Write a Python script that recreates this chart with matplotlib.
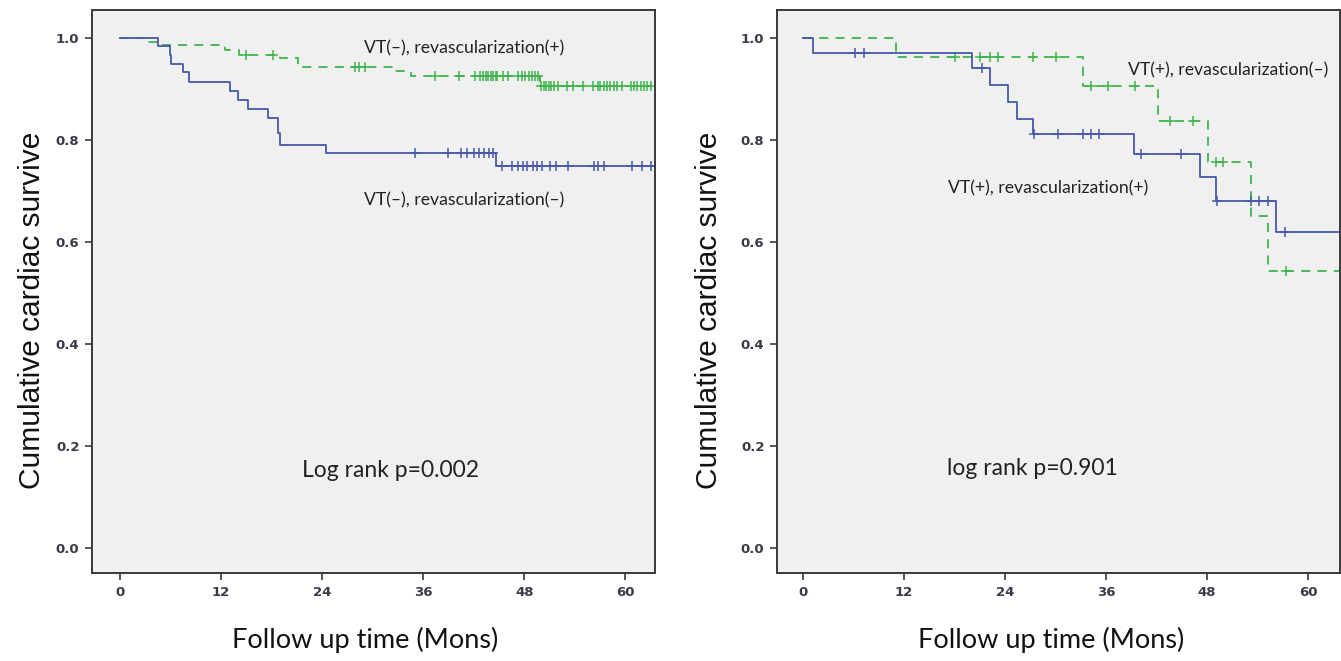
import numpy as np
import matplotlib
matplotlib.use("Agg")
import matplotlib.pyplot as plt

# left panel: VT(-) patients
left_blue_t = [4.5, 5.9, 6.1, 7.5, 8.2, 13.1, 14.0, 15.2, 17.6, 18.8, 19.0, 24.5, 44.6]
left_blue_s = [0.984, 0.967, 0.950, 0.934, 0.913, 0.896, 0.878, 0.860, 0.843, 0.813, 0.791, 0.775, 0.749]
left_blue_cens = [35.0, 39.0, 40.5, 41.2, 42.0, 42.6, 43.2, 43.8, 44.3, 45.3, 46.5, 47.3, 47.8,
                  48.3, 49.0, 49.5, 50.1, 51.0, 51.8, 53.2, 56.3, 56.8, 57.5, 60.8, 62.0, 63.0]
left_blue_end = 63.4

left_green_t = [3.4, 4.6, 12.5, 14.2, 19.0, 21.2, 32.5, 34.5, 49.9]
left_green_s = [0.993, 0.987, 0.976, 0.967, 0.960, 0.943, 0.936, 0.926, 0.906]
left_green_cens = [15.0, 18.2, 27.9, 28.4, 29.1, 37.4, 40.2, 42.2, 42.8, 43.1, 43.4, 43.7, 44.0,
                   44.3, 44.6, 44.8, 45.5, 46.1, 47.2, 47.7, 48.1, 48.5, 48.9, 49.3, 49.6,
                   50.0, 50.3, 50.6, 50.9, 51.2, 51.5, 52.0, 53.1, 53.8, 55.0, 56.1, 56.7,
                   57.0, 57.4, 57.8, 58.2, 58.6, 59.0, 59.6, 60.6, 61.0, 61.4, 61.8, 62.2,
                   62.6, 63.0]
left_green_end = 63.4

# right panel: VT(+) patients
right_blue_t = [1.15, 20.1, 22.2, 24.4, 25.4, 27.3, 39.3, 47.1, 49.1, 56.2]
right_blue_s = [0.971, 0.941, 0.907, 0.875, 0.842, 0.811, 0.772, 0.727, 0.680, 0.620]
right_blue_cens = [6.2, 7.2, 21.2, 27.4, 30.3, 33.3, 34.2, 35.2, 40.2, 44.9, 49.2, 53.2, 54.2, 55.2, 57.2]
right_blue_end = 63.8

right_green_t = [11.1, 33.3, 42.2, 48.1, 53.2, 55.2]
right_green_s = [0.963, 0.906, 0.837, 0.757, 0.651, 0.543]
right_green_cens = [18.0, 21.0, 22.2, 23.2, 27.3, 30.1, 34.2, 36.2, 39.4, 43.6, 46.3, 49.1, 49.9, 57.4]
right_green_end = 63.8

x_ticks = [0, 12, 24, 36, 48, 60]
y_ticks = [0.0, 0.2, 0.4, 0.6, 0.8, 1.0]

BLUE = "#4658a8"
GREEN = "#3fb44c"
FONT = ["Liberation Sans", "DejaVu Sans"]


def km_curve(ax, t, s, cens, end, color, ls):
    tt = np.concatenate([[0], t, [end]])
    ss = np.concatenate([[1.0], s, [s[-1]]])
    ax.step(tt, ss, where="post", color=color, lw=1.3, ls=ls, dashes=(5, 4) if ls == "--" else (None, None))
    # value at each censor time
    idx = np.searchsorted(tt, cens, side="right") - 1
    ax.plot(cens, ss[idx], ls="none", marker="+", color=color, ms=7.5, mew=1.1)


def style_axes(ax, xmin, xmax):
    ax.set_facecolor("#f0f0f0")
    ax.set_xlim(xmin, xmax)
    ax.set_ylim(-0.049, 1.055)
    ax.set_xticks(x_ticks)
    ax.set_yticks(y_ticks)
    ax.set_yticklabels([f"{v:.1f}" for v in y_ticks])
    for sp in ax.spines.values():
        sp.set_color("#3a3a3a")
        sp.set_linewidth(1.4)
    ax.tick_params(direction="out", length=5, width=1.2, color="#3a3a3a",
                   labelsize=9.5, labelcolor="#3a3a4a", pad=4)
    for lab in ax.get_xticklabels() + ax.get_yticklabels():
        lab.set_family(["DejaVu Sans Condensed", "DejaVu Sans"])
        lab.set_fontweight("bold")


fig = plt.figure(figsize=(13.41, 6.61), dpi=100)
ax1 = fig.add_axes([0.0686, 0.1331, 0.4198, 0.8518])
ax2 = fig.add_axes([0.5794, 0.1331, 0.4199, 0.8518])

km_curve(ax1, left_green_t, left_green_s, left_green_cens, left_green_end, GREEN, "--")
km_curve(ax1, left_blue_t, left_blue_s, left_blue_cens, left_blue_end, BLUE, "-")
style_axes(ax1, -3.3, 63.5)

km_curve(ax2, right_green_t, right_green_s, right_green_cens, right_green_end, GREEN, "--")
km_curve(ax2, right_blue_t, right_blue_s, right_blue_cens, right_blue_end, BLUE, "-")
style_axes(ax2, -3.1, 63.8)

lab_kw = dict(ha="center", va="center", fontsize=12.7, color="#222222", family=["Lato", "DejaVu Sans"])
ax1.text(40.8, 0.980, "VT(–), revascularization(+)", **lab_kw)
ax1.text(40.8, 0.682, "VT(–), revascularization(–)", **lab_kw)
ax1.text(32.1, 0.153, "Log rank p=0.002", ha="center", va="center", fontsize=16.5,
         color="#222222", family=["Lato", "DejaVu Sans"])

ax2.text(50.5, 0.937, "VT(+), revascularization(–)", **lab_kw)
ax2.text(29.1, 0.706, "VT(+), revascularization(+)", **lab_kw)
ax2.text(27.2, 0.155, "log rank p=0.901", ha="center", va="center", fontsize=16.5,
         color="#222222", family=["Lato", "DejaVu Sans"])

for xc in (0.0235, 0.529):
    fig.text(xc, 0.53, "Cumulative cardiac survive", rotation=90, ha="center", va="center",
             fontsize=21.5, color="#111111", family=FONT)
for xc in (0.272, 0.784):
    fig.text(xc, 0.032, "Follow up time (Mons)", ha="center", va="center",
             fontsize=19.5, color="#111111", family=["Lato", "DejaVu Sans"])

fig.savefig("out.png", dpi=100, facecolor="white")
